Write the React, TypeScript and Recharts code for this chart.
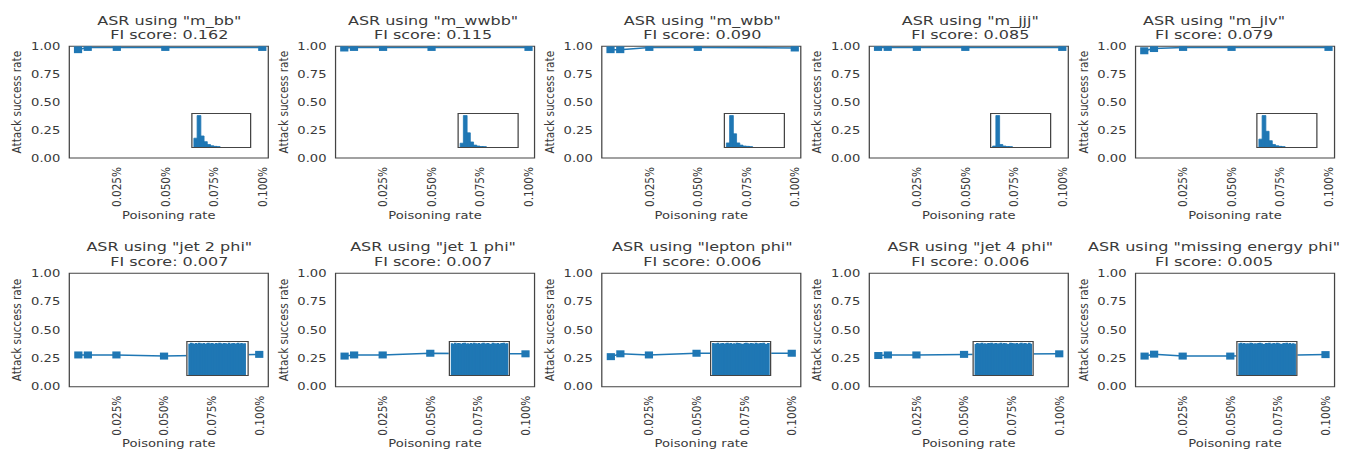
import React from 'react';
import { LineChart, Line, XAxis, YAxis, ReferenceArea, BarChart, Bar } from 'recharts';

// ---------------- data ----------------
const POISON_RATES = [0.005, 0.01, 0.025, 0.05, 0.1];
const X_TICKS = [0.025, 0.05, 0.075, 0.1];
const Y_TICKS = [0, 0.25, 0.5, 0.75, 1];

const FEATURES_TOP = ['m_bb', 'm_wwbb', 'm_wbb', 'm_jjj', 'm_jlv'];
const FI_TOP = [0.162, 0.115, 0.09, 0.085, 0.079];
const FEATURES_BOTTOM = ['jet 2 phi', 'jet 1 phi', 'lepton phi', 'jet 4 phi', 'missing energy phi'];
const FI_BOTTOM = [0.007, 0.007, 0.006, 0.006, 0.005];

const ASR_M_BB = [0.97, 0.99, 0.99, 0.99, 0.99];
const ASR_M_WWBB = [0.985, 0.99, 0.99, 0.99, 0.99];
const ASR_M_WBB = [0.97, 0.97, 0.99, 0.99, 0.985];
const ASR_M_JJJ = [0.99, 0.99, 0.99, 0.99, 0.99];
const ASR_M_JLV = [0.96, 0.98, 0.99, 0.99, 0.99];

const ASR_JET2_PHI = [0.28, 0.28, 0.28, 0.27, 0.285];
const ASR_JET1_PHI = [0.27, 0.28, 0.28, 0.295, 0.29];
const ASR_LEPTON_PHI = [0.265, 0.29, 0.28, 0.295, 0.295];
const ASR_JET4_PHI = [0.275, 0.28, 0.28, 0.285, 0.29];
const ASR_MISSING_E_PHI = [0.27, 0.287, 0.27, 0.27, 0.283];

// inset histograms (relative counts)
const HIST_M_BB = [0.28, 1.0, 0.35, 0.17, 0.08, 0.04, 0.02, 0.01, 0, 0, 0, 0, 0, 0, 0, 0, 0];
const HIST_M_WWBB = [0.12, 1.0, 0.45, 0.16, 0.06, 0.03, 0.015, 0.01, 0, 0, 0, 0, 0, 0, 0, 0, 0];
const HIST_M_WBB = [0.13, 1.0, 0.42, 0.13, 0.06, 0.03, 0.02, 0.01, 0, 0, 0, 0, 0, 0, 0, 0, 0];
const HIST_M_JJJ = [0.03, 1.0, 0.08, 0.03, 0.015, 0.01, 0, 0, 0, 0, 0, 0, 0, 0, 0, 0, 0];
const HIST_M_JLV = [0.25, 1.0, 0.5, 0.2, 0.08, 0.04, 0.02, 0.01, 0, 0, 0, 0, 0, 0, 0, 0, 0];

const HIST_JET2_PHI = [0.97, 1.0, 0.98, 0.96, 0.99, 0.97, 1.0, 0.98, 0.97, 0.99, 0.96, 0.98, 1.0, 0.97, 0.99, 0.98, 0.96, 0.99, 0.97, 1.0, 0.98, 0.97, 0.99, 0.98, 0.96, 1.0, 0.97, 0.98, 0.99, 0.97, 0.98, 1.0, 0.96, 0.99, 0.97, 0.98];
const HIST_JET1_PHI = [0.98, 0.96, 1.0, 0.97, 0.99, 0.98, 0.96, 0.99, 1.0, 0.97, 0.98, 0.96, 0.99, 0.97, 1.0, 0.98, 0.97, 0.99, 0.96, 0.98, 1.0, 0.97, 0.98, 0.99, 0.96, 0.97, 1.0, 0.98, 0.97, 0.99, 0.96, 0.98, 0.99, 1.0, 0.97, 0.98];
const HIST_LEPTON_PHI = [0.99, 0.97, 0.98, 1.0, 0.96, 0.98, 0.99, 0.97, 0.98, 1.0, 0.97, 0.99, 0.96, 0.98, 0.97, 1.0, 0.99, 0.98, 0.97, 0.96, 0.99, 1.0, 0.98, 0.97, 0.99, 0.98, 0.96, 1.0, 0.98, 0.97, 0.99, 0.98, 1.0, 0.97, 0.96, 0.99];
const HIST_JET4_PHI = [0.96, 0.99, 0.97, 0.98, 1.0, 0.97, 0.98, 0.96, 0.99, 0.98, 1.0, 0.97, 0.98, 0.99, 0.96, 0.98, 1.0, 0.97, 0.99, 0.98, 0.97, 0.96, 1.0, 0.99, 0.98, 0.97, 0.99, 0.96, 0.98, 1.0, 0.97, 0.99, 0.98, 0.96, 1.0, 0.97];
const HIST_MISSING_E_PHI = [0.98, 1.0, 0.97, 0.99, 0.96, 0.98, 0.97, 1.0, 0.99, 0.96, 0.98, 0.97, 0.99, 1.0, 0.98, 0.96, 0.97, 0.99, 0.98, 1.0, 0.96, 0.98, 0.99, 0.97, 1.0, 0.98, 0.97, 0.96, 0.99, 0.98, 1.0, 0.97, 0.99, 0.96, 0.98, 0.97];

// ---------------- layout (final pixels, page is stretched horizontally by S) ----------------
const S = 1.25;
const n = (v: number) => v / S;
const STEP = 266.5;
const PLOT_L = 69.3;
const PLOT_W = 199;
const BLUE = '#1f77b4';
const TXT = '#3a3a3a';
const FRAME = '#444444';
const FONT = '"DejaVu Sans", sans-serif';
const TITLE_SHIFT = [0.5, -2, 1, 1.5, -21];

type RowGeom = {
  top: number;
  plotTop: number;
  plotBottom: number;
  xDomain: [number, number];
  titleBase: [number, number];
  xlabelBase: number;
  insetTop: number;
  insetH: number;
  insetW: number;
  insetLefts: number[];
  insetMargin: [number, number];
  histMax: number;
  barStroke: number;
};

const ROWS: RowGeom[] = [
  {
    top: 0, plotTop: 46.3, plotBottom: 158, xDomain: [0.0005, 0.1031],
    titleBase: [25, 39.5], xlabelBase: 219, insetTop: 113.3, insetH: 35, insetW: 61,
    insetLefts: [190.7, 457.2, 723.7, 990.2, 1256.7], insetMargin: [1.4, 2.5], histMax: 1.05, barStroke: 0.7,
  },
  {
    top: 227, plotTop: 273.3, plotBottom: 386.7, xDomain: [0.00025, 0.10475],
    titleBase: [250.7, 266], xlabelBase: 446.7, insetTop: 341, insetH: 34.7, insetW: 61.6,
    insetLefts: [186.7, 449, 710, 972, 1236], insetMargin: [1.5, 1], histMax: 1.04, barStroke: 1.1,
  },
];

const renderXTick = (props: any) => {
  const { x, y, payload, index } = props;
  return (
    <text
      key={`xt-${index}`}
      transform={`translate(${x},${y + 9})rotate(-90)`}
      textAnchor="end"
      dominantBaseline="central"
      fontSize={10.5}
      fontFamily={FONT}
      fill={TXT}
    >
      {`${Number(payload.value).toFixed(3)}%`}
    </text>
  );
};

const MW = n(8.2);
const MH = 7;
const renderSquare = (p: any) => {
  if (p.cx == null || p.cy == null) return <g key={`d-${p.index}`} />;
  return <rect key={`d-${p.index}`} x={p.cx - MW / 2} y={p.cy - MH / 2} width={MW} height={MH} fill={BLUE} />;
};

type PanelProps = {
  row: number;
  col: number;
  feature: string;
  fi: number;
  asr: number[];
  hist: number[];
};

function Panel({ row, col, feature, fi, asr, hist }: PanelProps) {
  const g = ROWS[row];
  const chartW = n(PLOT_L + PLOT_W + 12);
  const chartH = 224;
  const mTop = g.plotTop - g.top;
  const plotBottomRel = g.plotBottom - g.top;
  const xAxisH = chartH - plotBottomRel;
  const data = POISON_RATES.map((r, i) => ({ rate: r, asr: asr[i] }));
  const histData = hist.map((c, i) => ({ bin: i, count: c }));
  const cx = n(PLOT_L + PLOT_W / 2);
  const tcx = n(PLOT_L + PLOT_W / 2 + TITLE_SHIFT[col]);
  const insetLeft = n(g.insetLefts[col] - col * STEP);
  const insetW = n(g.insetW);

  return (
    <div style={{ position: 'absolute', left: n(col * STEP), top: g.top, width: chartW, height: chartH }}>
      <div style={{ position: 'absolute', left: 0, top: 0 }}>
        <LineChart
          width={chartW}
          height={chartH}
          data={data}
          margin={{ top: mTop, right: chartW - n(PLOT_L) - n(PLOT_W), bottom: 0, left: 0 }}
        >
          <XAxis
            dataKey="rate"
            type="number"
            domain={g.xDomain}
            allowDataOverflow
            ticks={X_TICKS}
            interval={0}
            tickSize={0}
            tickMargin={0}
            axisLine={false}
            tickLine={false}
            height={xAxisH}
            tick={renderXTick}
          />
          <YAxis
            type="number"
            domain={[0, 1]}
            allowDataOverflow
            ticks={Y_TICKS}
            interval={0}
            width={n(PLOT_L)}
            tickSize={0}
            tickMargin={n(9)}
            axisLine={false}
            tickLine={false}
            tickFormatter={(v: number) => v.toFixed(2)}
            tick={{ fontSize: 10.5, fill: TXT, fontFamily: FONT }}
          />
          <ReferenceArea
            x1={g.xDomain[0]}
            x2={g.xDomain[1]}
            y1={0}
            y2={1}
            fill="none"
            fillOpacity={0}
            stroke={FRAME}
            strokeWidth={1}
            ifOverflow="visible"
          />
          <Line
            type="linear"
            dataKey="asr"
            stroke={BLUE}
            strokeWidth={1.5}
            dot={renderSquare}
            activeDot={false}
            isAnimationActive={false}
          />
        </LineChart>
      </div>
      <div
        style={{
          position: 'absolute',
          left: insetLeft,
          top: g.insetTop - g.top,
          width: insetW,
          height: g.insetH,
          border: `1px solid ${FRAME}`,
          background: '#fff',
          boxSizing: 'border-box',
          overflow: 'hidden',
        }}
      >
        <BarChart
          width={insetW - 2}
          height={g.insetH - 2}
          data={histData}
          barCategoryGap={0}
          barGap={0}
          margin={{ top: 0, bottom: 0, left: n(g.insetMargin[0]), right: n(g.insetMargin[1]) }}
        >
          <XAxis dataKey="bin" hide />
          <YAxis hide domain={[0, g.histMax]} />
          <Bar
            dataKey="count"
            fill={BLUE}
            stroke={BLUE}
            strokeWidth={g.barStroke}
            isAnimationActive={false}
          />
        </BarChart>
      </div>
      <svg
        width={chartW}
        height={chartH}
        style={{ position: 'absolute', left: 0, top: 0, overflow: 'visible', pointerEvents: 'none' }}
      >
        <text x={tcx} y={g.titleBase[0] - g.top} textAnchor="middle" fontSize={12.8} fontFamily={FONT} fill={TXT}>
          {`ASR using "${feature}"`}
        </text>
        <text x={tcx} y={g.titleBase[1] - g.top} textAnchor="middle" fontSize={12.8} fontFamily={FONT} fill={TXT}>
          {`FI score: ${fi.toFixed(3)}`}
        </text>
        <text x={cx} y={g.xlabelBase - g.top} textAnchor="middle" fontSize={10.5} fontFamily={FONT} fill={TXT}>
          Poisoning rate
        </text>
        <text
          transform={`translate(${n(17)},${(g.plotTop + g.plotBottom) / 2 - g.top})rotate(-90)`}
          textAnchor="middle"
          dominantBaseline="central"
          fontSize={10.5}
          fontFamily={FONT}
          fill={TXT}
        >
          Attack success rate
        </text>
      </svg>
    </div>
  );
}

const TOP_ASR = [ASR_M_BB, ASR_M_WWBB, ASR_M_WBB, ASR_M_JJJ, ASR_M_JLV];
const TOP_HIST = [HIST_M_BB, HIST_M_WWBB, HIST_M_WBB, HIST_M_JJJ, HIST_M_JLV];
const BOTTOM_ASR = [ASR_JET2_PHI, ASR_JET1_PHI, ASR_LEPTON_PHI, ASR_JET4_PHI, ASR_MISSING_E_PHI];
const BOTTOM_HIST = [HIST_JET2_PHI, HIST_JET1_PHI, HIST_LEPTON_PHI, HIST_JET4_PHI, HIST_MISSING_E_PHI];

export default function App() {
  return (
    <div
      style={{
        position: 'absolute',
        left: 0,
        top: 0,
        width: 1348,
        height: 451,
        overflow: 'hidden',
        background: '#fff',
        fontFamily: FONT,
      }}
    >
      <div
        style={{
          position: 'absolute',
          left: 0,
          top: 0,
          width: n(1348),
          height: 451,
          transform: `scaleX(${S})`,
          transformOrigin: '0 0',
        }}
      >
        {FEATURES_TOP.map((f, i) => (
          <Panel key={`t${i}`} row={0} col={i} feature={f} fi={FI_TOP[i]} asr={TOP_ASR[i]} hist={TOP_HIST[i]} />
        ))}
        {FEATURES_BOTTOM.map((f, i) => (
          <Panel key={`b${i}`} row={1} col={i} feature={f} fi={FI_BOTTOM[i]} asr={BOTTOM_ASR[i]} hist={BOTTOM_HIST[i]} />
        ))}
      </div>
    </div>
  );
}
